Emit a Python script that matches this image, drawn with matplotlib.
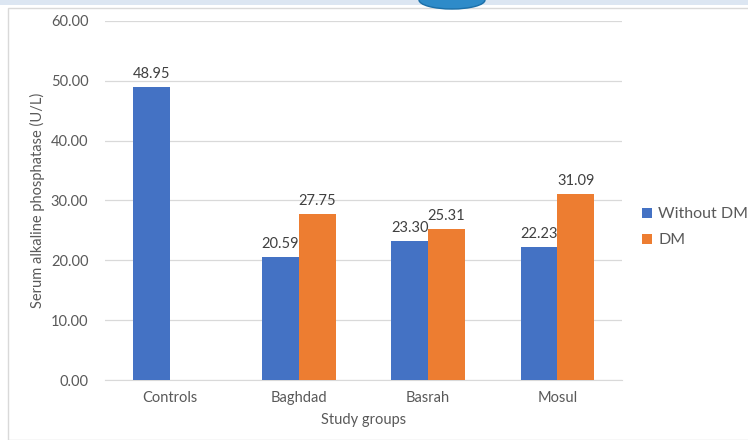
import matplotlib
matplotlib.use("Agg")
import matplotlib.pyplot as plt
import numpy as np
from matplotlib.patches import Rectangle, Ellipse

categories = ["Controls", "Baghdad", "Basrah", "Mosul"]
without_dm = [48.95, 20.59, 23.30, 22.23]
dm = [None, 27.75, 25.31, 31.09]
series_names = ["Without DM", "DM"]
yticks = [0, 10, 20, 30, 40, 50, 60]

plt.rcParams['font.family'] = ['Lato', 'DejaVu Sans']
txt = '#595959'
blue = '#4472C4'
orange = '#ED7D31'

fig = plt.figure(figsize=(7.48, 4.40), dpi=100)
W, H = 748, 440
ax = fig.add_axes([105 / W, 1 - 380 / H, 517 / W, 359 / H])

x = np.arange(len(categories))
bw = 0.285
bx1 = x - bw / 2
bx2 = x + bw / 2
b1 = ax.bar(bx1, without_dm, width=bw, color=blue, label=series_names[0], zorder=3)
dm_x = [bx2[i] for i in range(len(dm)) if dm[i] is not None]
dm_v = [v for v in dm if v is not None]
b2 = ax.bar(dm_x, dm_v, width=bw, color=orange, label=series_names[1], zorder=3)

for rect, v in zip(b1, without_dm):
    ax.text(rect.get_x() + rect.get_width() / 2, v + 1.0, f"{v:.2f}",
            ha='center', va='bottom', fontsize=10.5, color='#404040')
for rect, v in zip(b2, dm_v):
    ax.text(rect.get_x() + rect.get_width() / 2, v + 1.0, f"{v:.2f}",
            ha='center', va='bottom', fontsize=10.5, color='#404040')

ax.set_xlim(-0.5, len(categories) - 0.5)
ax.set_ylim(0, 60)
ax.set_yticks(yticks)
ax.set_yticklabels([f"{t:.2f}" for t in yticks], fontsize=10.5, color=txt)
ax.set_xticks(x)
ax.set_xticklabels(categories, fontsize=10.5, color=txt)
ax.tick_params(length=0, pad=8)
ax.tick_params(axis='y', pad=12)
ax.grid(axis='y', color='#D9D9D9', linewidth=0.9, zorder=0)
for s in ['top', 'right', 'left']:
    ax.spines[s].set_visible(False)
ax.spines['bottom'].set_color('#D9D9D9')
ax.set_xlabel("Study groups", fontsize=10.5, color=txt, labelpad=6)
ax.set_ylabel("Serum alkaline phosphatase (U/L)", fontsize=10.5, color=txt, labelpad=4)

leg = fig.legend(handles=[b1, b2], labels=series_names, loc='upper left',
                 bbox_to_anchor=(636 / W, 1 - 201 / H), frameon=False,
                 fontsize=11.5, handlelength=0.6, handleheight=0.6,
                 handletextpad=0.4, labelspacing=0.75, borderaxespad=0)
for t in leg.get_texts():
    t.set_color(txt)

# chart border and top strip
fig.patches.append(Rectangle((8 / W, 0), 1, 1 - 8 / H, transform=fig.transFigure,
                             fill=False, edgecolor='#D9D9D9', linewidth=1, zorder=0))
fig.patches.append(Rectangle((0, 1 - 5 / H), 1, 5 / H, transform=fig.transFigure,
                             facecolor='#DCE6F2', edgecolor='none', zorder=0))
fig.patches.append(Ellipse((452 / W, 1 - 0 / H), 66 / W, 18 / H, transform=fig.transFigure,
                           facecolor='#2E8BC9', edgecolor='#1B6FA8', zorder=1))

fig.savefig("out.png", dpi=100)
